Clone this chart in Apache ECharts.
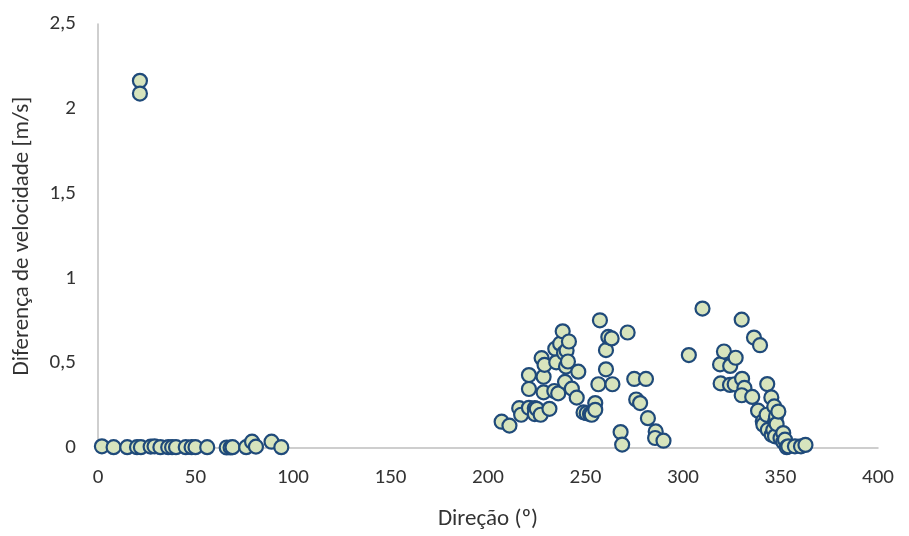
<!DOCTYPE html>
<html>
<head>
<meta charset="utf-8">
<title>Diferença de velocidade</title>
<script src="https://cdn.jsdelivr.net/npm/echarts@6/dist/echarts.min.js"></script>
<style>
    body { margin: 0; background: #fff; }
    #myChart { width: 909px; height: 536px; }
</style>
</head>
<body>
<div id="myChart"></div>
<script>
    // direção (º) e diferença de velocidade [m/s]
    var direcao = [
        2, 8, 15, 20, 22, 27, 29, 32, 36, 38, 40, 45, 48, 50, 56, 66, 68, 69, 76, 79, 81, 89, 94,
        21.5, 21.5,
        207, 211, 216, 217, 221, 221, 221, 224, 224, 225, 227, 227.5, 228.5, 228.5, 229, 231.5,
        234, 234.5, 235, 236, 237, 238.3, 239, 239.5, 240, 240.3, 241, 241.5, 243, 245.5, 246.3,
        249, 250.6, 252.3, 253.2, 255, 255, 256.6, 257.4, 260.5, 260.5, 261.7, 263.4, 263.8,
        268, 268.8, 271.6, 275, 276, 278, 281, 282, 286, 285.7, 290,
        303, 310, 319, 319.3, 321, 324.2, 324.1, 326.5, 327, 330.1, 330.3, 331.5, 330.1, 335.5,
        336.4, 339.5, 338.5, 340.9, 341.2, 342.9, 343.2, 343.5, 345.3, 345.5, 346.3, 346.8,
        347.2, 347.2, 347.7, 348, 348.9, 350, 351.4, 351.4, 352.3, 353.2, 354, 357.4, 360.5, 362.8
    ];
    var diferenca = [
        0.01, 0.005, 0.005, 0.005, 0.005, 0.008, 0.01, 0.005, 0.005, 0.005, 0.005, 0.005, 0.005,
        0.005, 0.005, 0.003, 0.003, 0.005, 0.005, 0.037, 0.008, 0.037, 0.005,
        2.165, 2.09,
        0.155, 0.132, 0.235, 0.196, 0.43, 0.348, 0.237, 0.235, 0.2, 0.231, 0.196, 0.53, 0.42, 0.328,
        0.49, 0.231, 0.336, 0.585, 0.505, 0.322, 0.615, 0.688, 0.56, 0.39, 0.48, 0.575, 0.51, 0.628,
        0.35, 0.297, 0.45, 0.21, 0.205, 0.2, 0.196, 0.265, 0.225, 0.376, 0.753, 0.577, 0.464,
        0.655, 0.646, 0.376, 0.094, 0.02, 0.681, 0.407, 0.286, 0.265, 0.407, 0.176, 0.098, 0.059, 0.043,
        0.548, 0.822, 0.493, 0.381, 0.569, 0.484, 0.372, 0.376, 0.532, 0.757, 0.408, 0.354, 0.311,
        0.301, 0.651, 0.606, 0.22, 0.157, 0.137, 0.196, 0.377, 0.107, 0.298, 0.078, 0.107, 0.245,
        0.157, 0.069, 0.186, 0.141, 0.215, 0.059, 0.088, 0.035, 0.049, 0.005, 0.01, 0.01, 0.01, 0.018
    ];
    var xTicks = [0, 50, 100, 150, 200, 250, 300, 350, 400];
    var yTicks = [0, 0.5, 1, 1.5, 2, 2.5];

    var pontos = [];
    for (var i = 0; i < direcao.length; i++) {
        pontos.push([direcao[i], diferenca[i]]);
    }

    var fonte = "Carlito, 'Open Sans', sans-serif";

    var myChart = echarts.init(document.getElementById('myChart'));
    myChart.setOption({
        animation: false,
        grid: {
            left: 98,
            right: 31,
            top: 24,
            bottom: 86
        },
        xAxis: {
            type: 'value',
            min: xTicks[0],
            max: xTicks[xTicks.length - 1],
            interval: 50,
            name: 'Direção (º)',
            nameLocation: 'middle',
            nameGap: 60,
            nameTextStyle: { color: '#333', fontSize: 23, fontFamily: fonte },
            axisLine: { show: true, lineStyle: { color: '#bfbfbf', width: 1.5 } },
            axisTick: { show: false },
            splitLine: { show: false },
            axisLabel: { color: '#333', fontSize: 21, fontFamily: fonte, margin: 19 }
        },
        yAxis: {
            type: 'value',
            min: yTicks[0],
            max: yTicks[yTicks.length - 1],
            interval: 0.5,
            name: 'Diferença de velocidade [m/s]',
            nameLocation: 'middle',
            nameGap: 64,
            nameTextStyle: { color: '#333', fontSize: 23, fontFamily: fonte },
            axisLine: { show: true, lineStyle: { color: '#bfbfbf', width: 1.5 } },
            axisTick: { show: false },
            splitLine: { show: false },
            axisLabel: {
                color: '#333', fontSize: 21, fontFamily: fonte, margin: 22,
                formatter: function (v) { return String(v).replace('.', ','); }
            }
        },
        series: [{
            type: 'scatter',
            data: pontos,
            symbol: 'circle',
            symbolSize: 14,
            itemStyle: {
                color: '#d7e4bd',
                borderColor: '#1f4a7a',
                borderWidth: 2.2,
                opacity: 1
            }
        }]
    });
</script>
</body>
</html>
